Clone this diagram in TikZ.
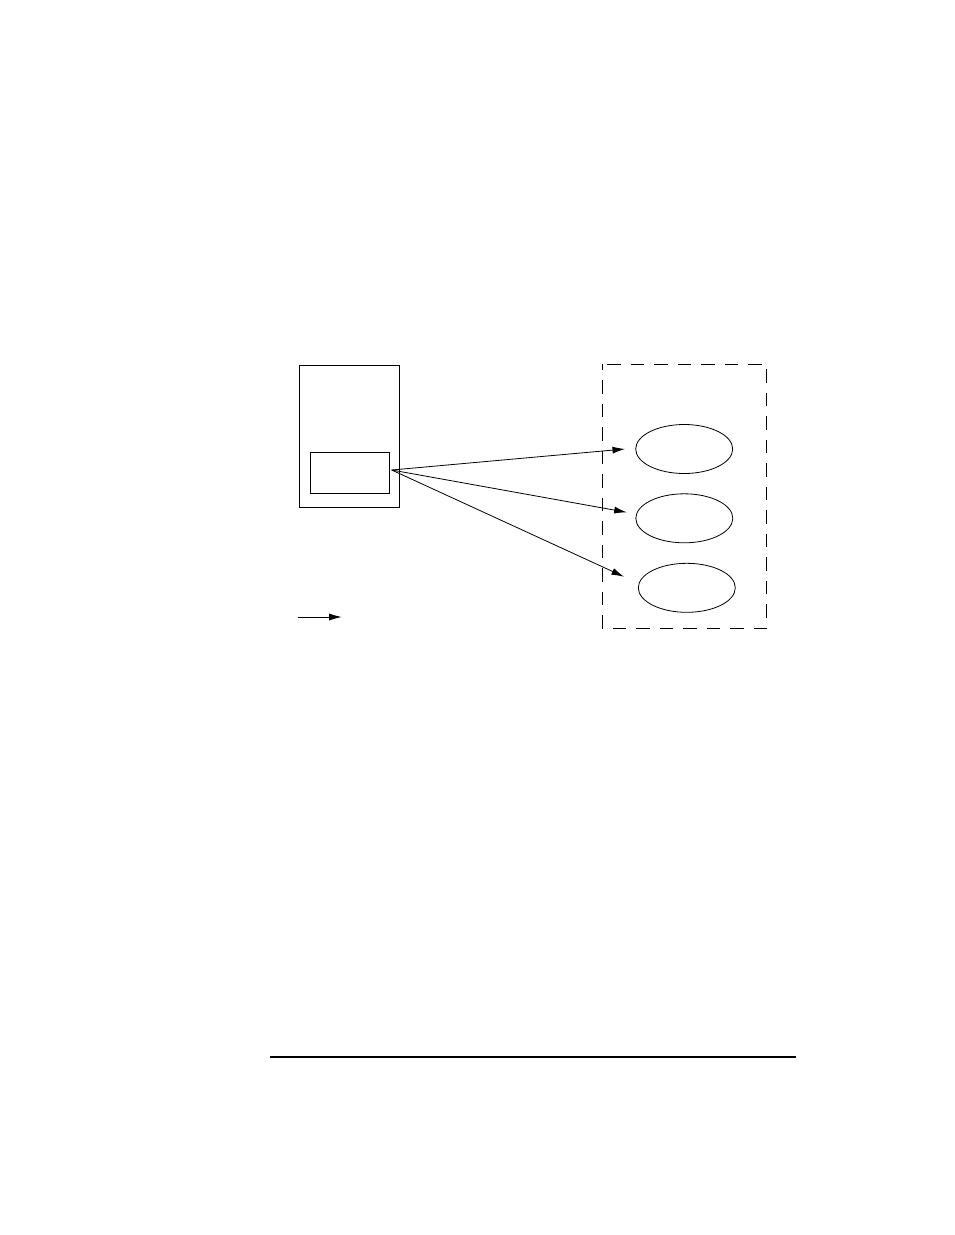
\documentclass[tikz,border=0pt]{standalone}
\usetikzlibrary{arrows.meta,shapes.geometric}
\begin{document}
\begin{tikzpicture}[x=1pt,y=-1pt,
  thin line/.style={line width=0.8pt},
  boxstyle/.style={draw,thin line},
  ov/.style={draw,thin line,ellipse,minimum width=97pt,minimum height=49pt,inner sep=0pt},
  conn/.style={thin line,-{Latex[length=12.5pt,width=7pt]}}]
\useasboundingbox (0,0) rectangle (954,1235);
\node[boxstyle,minimum width=100pt,minimum height=142pt,inner sep=0pt] (outer) at (349.3,436) {};
\node[boxstyle,minimum width=79pt,minimum height=41pt,inner sep=0pt] (inner) at (349.8,472.8) {};
\draw[thin line,dash pattern=on 13.5pt off 10pt,dash phase=7.5pt] (602.3,364.3) rectangle (766.7,628.3);
\node[ov] (e1) at (684.2,449) {};
\node[ov] (e2) at (684.3,518.3) {};
\node[ov] (e3) at (686.8,587.8) {};
\coordinate (src) at (391.7,470);
\coordinate (t1) at (625,449);
\coordinate (t2) at (626.7,512.3);
\coordinate (t3) at (624,576.7);
\draw[conn] (src) -- (t1);
\draw[conn] (src) -- (t2);
\draw[conn] (src) -- (t3);
\coordinate (la) at (297.7,617);
\coordinate (lb) at (341.7,617);
\draw[conn] (la) -- (lb);
\coordinate (r1) at (269.7,1057);
\coordinate (r2) at (795.7,1057);
\draw[line width=2pt] (r1) -- (r2);
\end{tikzpicture}
\end{document}
